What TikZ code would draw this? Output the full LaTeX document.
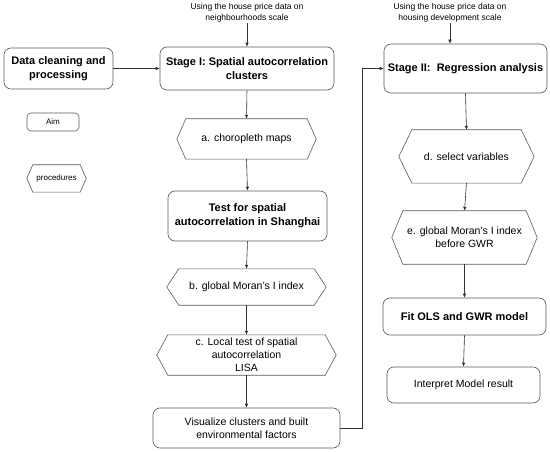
\documentclass[tikz,border=0pt]{standalone}
\usepackage{fontspec}
\setmainfont{Liberation Sans}
\usetikzlibrary{arrows.meta,calc}
\tikzset{
  box/.style={draw=black!65, rounded corners=7pt, line width=0.6pt, align=center, inner sep=1pt},
  hexin/.style={inner sep=1pt, align=center},
  hexline/.style={draw=black!65, line width=0.6pt},
  bfont/.style={font=\fontsize{11}{14}\selectfont\bfseries},
  rfont/.style={font=\fontsize{10.5}{13}\selectfont},
  sfont/.style={font=\fontsize{8}{10}\selectfont},
  toplab/.style={font=\fontsize{8.5}{11}\selectfont, align=center, inner sep=1pt},
  conn/.style={draw=black!80, line width=0.6pt, -{Latex[length=4pt,width=3.5pt]}},
}
\newcommand\hexbox[8]{%
  \node[hexin,#8, minimum width=#4pt, minimum height=#5pt] (#1) at (#2,#3) {#7};
  \draw[hexline] (#1.west) -- ([xshift=#6pt]#1.north west) -- ([xshift=-#6pt]#1.north east) -- (#1.east) -- ([xshift=-#6pt]#1.south east) -- ([xshift=#6pt]#1.south west) -- cycle;
}
\begin{document}
\begin{tikzpicture}[x=1pt,y=-1pt]
\useasboundingbox (0,0) rectangle (550,452);
% top labels
\node[toplab] (lab1) at (247,12.5) {Using the house price data on\\neighbourhoods scale};
\node[toplab] (lab2) at (450,12.5) {Using the house price data on\\housing development scale};
% left legend
\node[box,bfont,minimum width=109pt,minimum height=41pt] (data) at (58.5,68.5) {Data cleaning and\\processing};
\node[box,sfont,rounded corners=4pt,minimum width=52pt,minimum height=18pt] (aim) at (53,122) {Aim};
\hexbox{proc}{56.5}{178.5}{59}{27}{6}{procedures}{sfont}
% column 1
\node[box,bfont,minimum width=174pt,minimum height=43pt] (s1) at (247,68.5) {Stage I: Spatial autocorrelation\\clusters};
\hexbox{a}{246.5}{139}{139}{40}{9}{a. choropleth maps}{rfont}
\node[box,bfont,minimum width=159pt,minimum height=50pt] (test) at (247.5,216) {Test for spatial\\autocorrelation in Shanghai};
\hexbox{b}{246.5}{287}{159}{36}{12}{b. global Moran's I index}{rfont}
\hexbox{c}{246.5}{355}{179}{40}{11}{c. Local test of spatial\\autocorrelation\\LISA}{rfont}
\node[box,rfont,minimum width=187pt,minimum height=40pt] (vis) at (246.5,428) {Visualize clusters and built\\environmental factors};
% column 2
\node[box,bfont,minimum width=163pt,minimum height=49pt] (s2) at (465.5,68.5) {Stage II:\ \ Regression analysis};
\hexbox{d}{466.5}{156.5}{135}{53}{13}{d. select variables}{rfont}
\hexbox{e}{464.5}{237.5}{145}{53}{11}{e. global Moran's I index\\before GWR}{rfont}
\node[box,bfont,minimum width=163pt,minimum height=37pt] (fit) at (464.5,316.5) {Fit OLS and GWR model};
\node[box,rfont,minimum width=153pt,minimum height=36pt] (interp) at (463.5,385) {Interpret Model result};
\coordinate (turn) at (362,428);
% connectors
\draw[conn] (lab1.south) -- (s1.north);
\draw[conn] (lab2.south) -- (lab2.south |- s2.north);
\draw[conn] (data.east) -- (s1.west);
\draw[conn] (s1.south) -- (a.north);
\draw[conn] (a.south) -- (test.north);
\draw[conn] (test.south) -- (b.north);
\draw[conn] (b.south) -- (c.north);
\draw[conn] (c.south) -- (vis.north);
\draw[conn] (vis.east) -- (turn) |- (s2.west);
\draw[conn] (s2.south) -- (d.north);
\draw[conn] (d.south) -- (e.north);
\draw[conn] (e.south) -- (fit.north);
\draw[conn] (fit.south) -- (interp.north);
\end{tikzpicture}
\end{document}
